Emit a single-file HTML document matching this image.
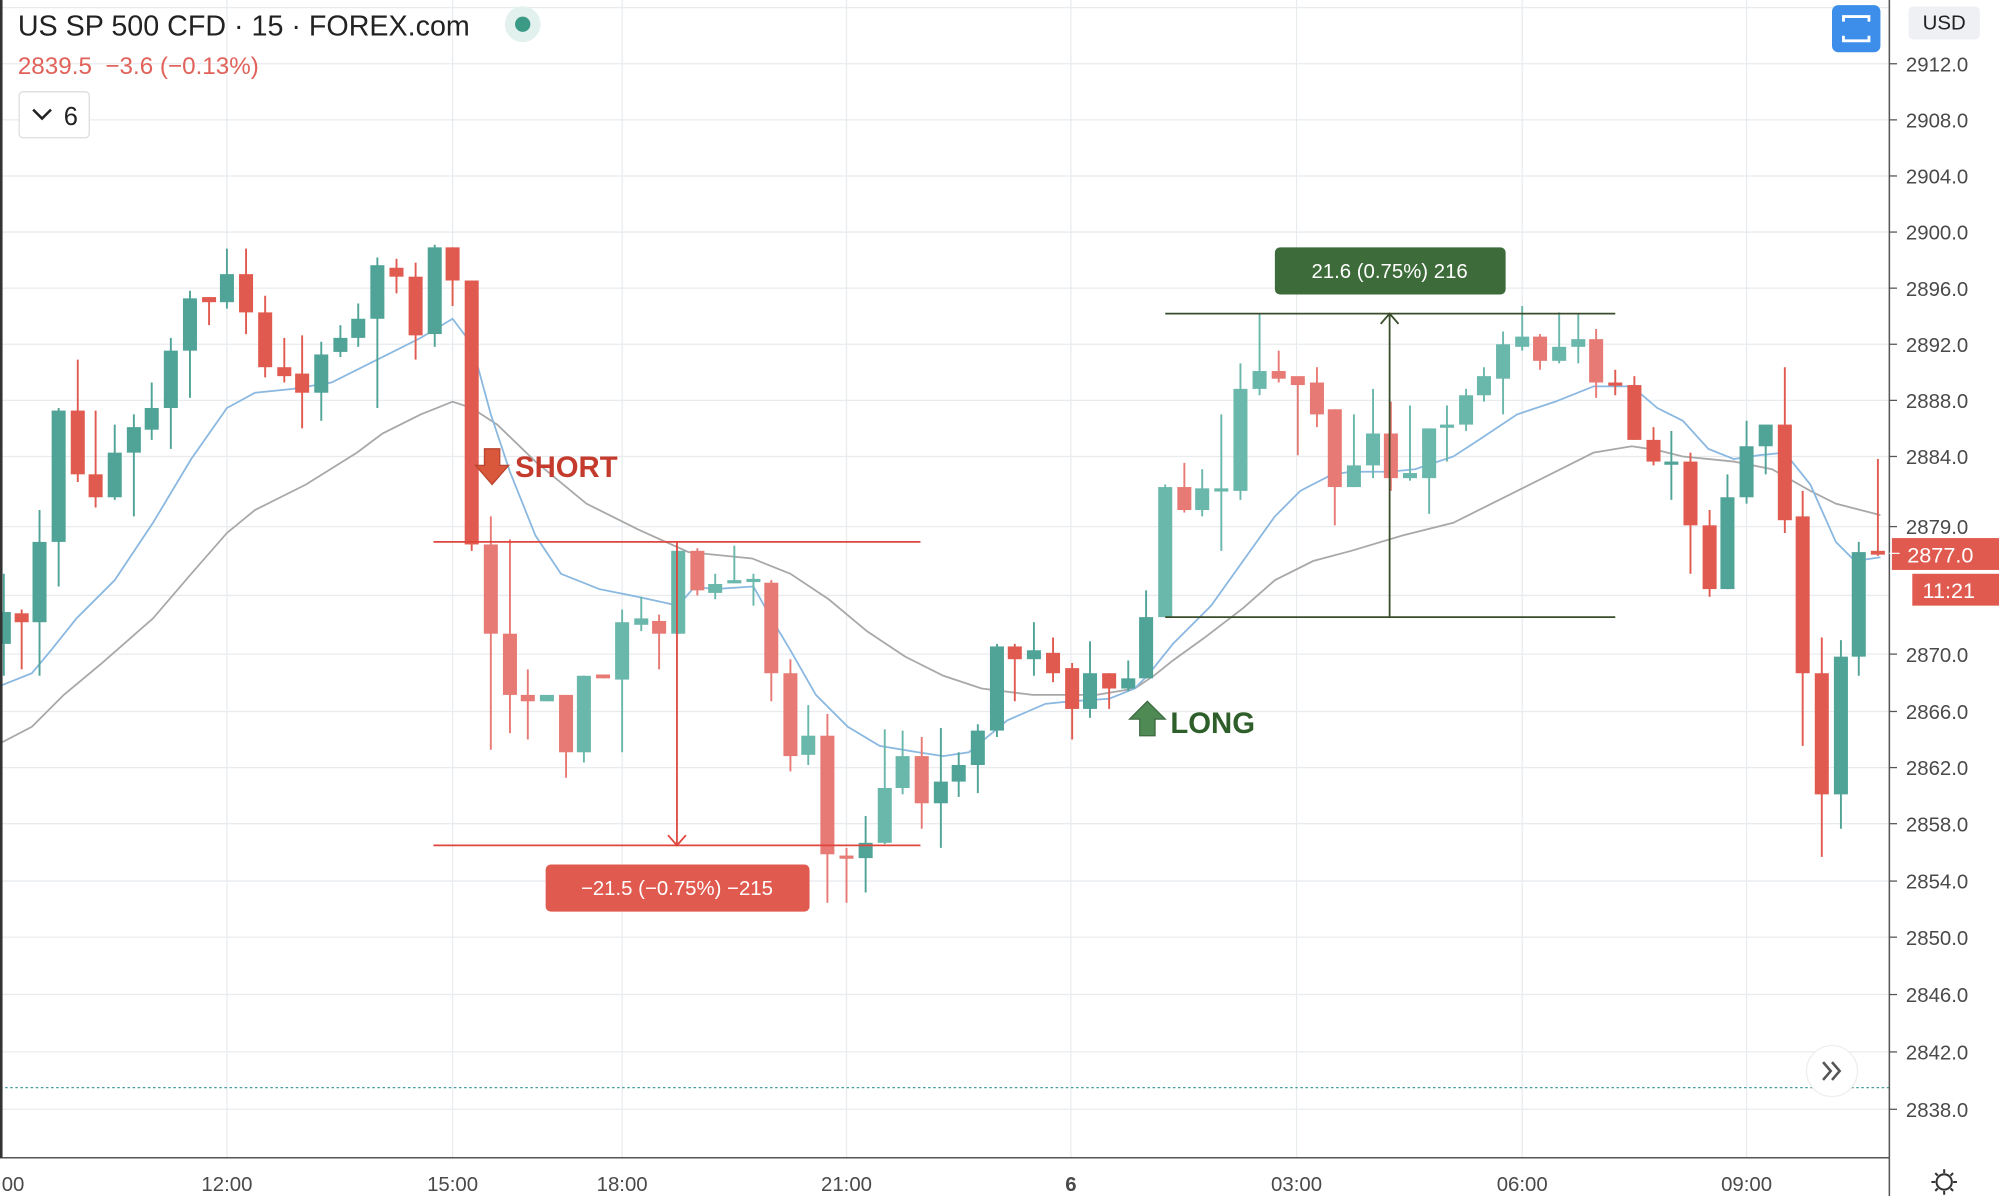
<!DOCTYPE html>
<html><head><meta charset="utf-8"><style>
html,body{margin:0;padding:0;background:#fff;}
svg{display:block;}
text{font-family:"Liberation Sans",sans-serif;}
</style></head><body>
<svg id="c" width="1999" height="1196" viewBox="0 0 1568 938" preserveAspectRatio="none" xmlns="http://www.w3.org/2000/svg">
<rect width="1568" height="938" fill="#fff"/>
<g id="grid" stroke="#e8ecef" stroke-width="1"></g>
<line x1="0" y1="853" x2="1482" y2="853" stroke="#4a9ea0" stroke-width="1" stroke-dasharray="2,2"/>
<polyline id="gray" fill="none" stroke="#a8a8a8" stroke-width="1.4"/>
<polyline id="blue" fill="none" stroke="#8ab8e0" stroke-width="1.4"/>
<g id="candles"></g>
<g stroke="#e0453c" stroke-width="1.4">
<line x1="340" y1="425" x2="722" y2="425"/>
<line x1="340" y1="663" x2="722" y2="663"/>
<line x1="531" y1="425" x2="531" y2="663"/>
<polyline points="524,655 531,663 538,655" fill="none"/>
</g>
<rect x="428" y="678" width="207" height="37" rx="4" fill="#e05a4f"/>
<text x="531" y="702" fill="#fff" font-size="16" text-anchor="middle">−21.5 (−0.75%) −215</text>
<g stroke="#3a4d2a" stroke-width="1.4">
<line x1="914" y1="246" x2="1267" y2="246"/>
<line x1="914" y1="484" x2="1267" y2="484"/>
<line x1="1090" y1="246" x2="1090" y2="484"/>
<polyline points="1083,254 1090,246 1097,254" fill="none"/>
</g>
<rect x="1000" y="194" width="181" height="37" rx="4" fill="#3e6b3a"/>
<text x="1090" y="218" fill="#fff" font-size="16" text-anchor="middle">21.6 (0.75%) 216</text>
<polygon points="380,352 392,352 392,365 399,365 386,380 373,365 380,365" fill="#d9573a" stroke="#b94530" stroke-width="1"/>
<text x="404" y="374" fill="#c43a2c" font-size="23" font-weight="bold">SHORT</text>
<polygon points="900,550 914,564 906,564 906,577 894,577 894,564 886,564" fill="#4f8a55" stroke="#3c6b40" stroke-width="1"/>
<text x="918" y="575" fill="#2e5e2a" font-size="23" font-weight="bold">LONG</text>
<line x1="1482" y1="0" x2="1482" y2="938" stroke="#555" stroke-width="1.2"/>
<line x1="0" y1="908" x2="1482" y2="908" stroke="#555" stroke-width="1.2"/>
<line x1="1" y1="0" x2="1" y2="908" stroke="#333" stroke-width="2"/>
<g id="yl" font-size="16" fill="#4a4a4a"></g>
<g id="xl" font-size="16" fill="#4a4a4a" text-anchor="middle"></g>
<rect x="1484" y="422" width="84" height="25" fill="#e05a4f"/>
<text x="1496" y="441" fill="#fff" font-size="17">2877.0</text>
<rect x="1500" y="450" width="68" height="25" fill="#e05a4f"/>
<text x="1508" y="469" fill="#fff" font-size="17">11:21</text>
<line x1="1482" y1="434" x2="1490" y2="434" stroke="#fff"/>
<text x="14" y="28" font-size="22.5" fill="#222" xml:space="preserve">US SP 500 CFD · 15 · FOREX.com</text>
<circle cx="410" cy="19" r="14" fill="#e2f0ee"/>
<circle cx="410" cy="19" r="6" fill="#3a9a86"/>
<text x="14" y="58" font-size="19" fill="#e0625a" xml:space="preserve">2839.5  −3.6 (−0.13%)</text>
<rect x="15" y="72" width="55" height="36" rx="3" fill="#fff" stroke="#ddd"/>
<polyline points="26,86 33,93 40,86" fill="none" stroke="#222" stroke-width="2"/>
<text x="50" y="98" font-size="20" fill="#222">6</text>
<rect x="1437" y="4" width="38" height="37" rx="5" fill="#3d8eea"/>
<path d="M1446,17 v-4 h20 v4 M1446,28 v4 h20 v-4" fill="none" stroke="#fff" stroke-width="2.2"/>
<rect x="1497" y="5" width="56" height="26" rx="4" fill="#eef0f3"/>
<text x="1525" y="23" font-size="16" fill="#222" text-anchor="middle">USD</text>
<circle cx="1437" cy="840" r="20" fill="#fff" stroke="#eee"/>
<path d="M1430,833 l6,7 l-6,7 M1437,833 l6,7 l-6,7" fill="none" stroke="#555" stroke-width="2"/>
<circle cx="1525" cy="927" r="6" fill="none" stroke="#333" stroke-width="1.6"/>
<path d="M1525,917 v3 M1525,934 v3 M1515,927 h3 M1532,927 h3 M1518,920 l2,2 M1530,932 l2,2 M1532,920 l-2,2 M1518,934 l2,-2" stroke="#333" stroke-width="1.6"/>
</svg>
<script>
var NS="http://www.w3.org/2000/svg";
function el(p,t,a,tx){var e=document.createElementNS(NS,t);for(var k in a)e.setAttribute(k,a[k]);if(tx!==undefined)e.textContent=tx;p.appendChild(e);return e;}
var grid=document.getElementById('grid');
var ys=[6,50,94,138,182,226,270,314,358,413,467,513,558,602,646,691,735,780,825,870];
ys.forEach(function(y){el(grid,'line',{x1:0,y1:y,x2:1482,y2:y});});
var xs=[178,355,488,664,840,1017,1194,1370];
xs.forEach(function(x){el(grid,'line',{x1:x,y1:0,x2:x,y2:908});});
var yl=document.getElementById('yl');
var labs=[[50,"2912.0"],[94,"2908.0"],[138,"2904.0"],[182,"2900.0"],[226,"2896.0"],[270,"2892.0"],[314,"2888.0"],[358,"2884.0"],[413,"2879.0"],[513,"2870.0"],[558,"2866.0"],[602,"2862.0"],[646,"2858.0"],[691,"2854.0"],[735,"2850.0"],[780,"2846.0"],[825,"2842.0"],[870,"2838.0"]];
labs.forEach(function(l){el(yl,'line',{x1:1482,y1:l[0],x2:1488,y2:l[0],stroke:'#555'});el(yl,'text',{x:1495,y:l[0]+6},l[1]);});
var xl=document.getElementById('xl');
[[8,":00"],[178,"12:00"],[355,"15:00"],[488,"18:00"],[664,"21:00"],[840,"6"],[1017,"03:00"],[1194,"06:00"],[1370,"09:00"]].forEach(function(l){var t=el(xl,'text',{x:l[0],y:934},l[1]);if(l[1]=="6")t.setAttribute('font-weight','bold');});
var C=[[3,480,505,450,530,'g'],[17,481,488,478,525,'r'],[31,425,488,400,530,'g'],[46,322,425,320,460,'g'],[61,322,372,282,378,'r'],[75,372,390,322,398,'r'],[90,355,390,333,392,'g'],[105,335,355,325,405,'g'],[119,320,337,300,345,'g'],[134,275,320,265,352,'g'],[149,234,275,228,312,'g'],[164,233,237,233,255,'r'],[178,215,237,195,242,'g'],[193,215,245,195,262,'r'],[208,245,288,232,296,'r'],[223,288,295,265,300,'r'],[237,293,308,263,336,'r'],[252,278,308,268,330,'g'],[267,265,276,255,280,'g'],[281,250,265,238,272,'g'],[296,208,250,202,320,'g'],[311,210,217,203,230,'r'],[326,217,263,206,282,'r'],[341,194,262,192,272,'g'],[355,194,220,194,240,'r'],[370,220,427,220,432,'r'],
[385,427,497,405,588,'R'],[400,497,545,423,575,'R'],[414,545,550,525,580,'R'],[429,545,550,545,550,'G'],[444,545,590,545,610,'R'],[458,530,590,530,598,'G'],[473,529,532,529,532,'R'],[488,488,533,478,590,'G'],[503,485,490,468,495,'G'],[517,487,497,482,525,'R'],[532,432,497,432,497,'G'],[547,432,463,430,467,'R'],[561,458,465,450,470,'G'],[576,455,457,428,457,'G'],[591,454,456,450,475,'G'],[605,457,528,455,550,'R'],[620,528,593,517,605,'R'],[634,577,592,553,600,'G'],[649,577,670,560,708,'R'],[664,671,673,665,708,'R'],[679,661,673,640,700,'g'],[694,618,661,572,662,'G'],[708,593,618,573,623,'G'],[723,593,630,578,650,'R'],[738,613,630,571,665,'g'],[752,600,613,590,625,'g'],[767,573,600,568,622,'g'],[782,507,573,505,578,'g'],[796,507,517,505,550,'r'],[811,510,517,488,530,'g'],[826,512,528,500,535,'r'],[841,524,556,520,580,'r'],[855,528,556,503,563,'g'],[870,528,540,528,556,'r'],[885,532,540,518,542,'g'],[899,484,532,463,532,'g'],[914,382,484,380,484,'G'],[929,382,400,363,402,'R'],[943,383,400,368,405,'G'],[958,383,385,325,432,'G'],[973,305,385,285,392,'G'],[988,291,305,246,310,'G'],[1003,291,297,275,300,'R'],[1018,295,302,296,357,'R'],[1033,300,325,288,335,'R'],[1047,321,382,321,412,'R'],[1062,365,382,325,382,'G'],[1077,340,365,305,375,'G'],[1091,340,375,315,385,'R'],[1106,371,375,318,377,'G'],[1121,336,375,336,403,'G'],[1135,333,335,318,362,'G'],[1150,310,333,305,338,'G'],[1164,295,310,288,315,'G'],[1179,270,297,260,325,'G'],[1194,264,272,240,275,'G'],[1208,264,283,262,290,'R'],[1223,272,283,245,285,'G'],[1238,266,272,246,285,'G'],[1252,266,300,258,312,'R'],[1267,300,302,290,310,'r'],[1282,302,345,295,345,'r'],[1297,345,362,335,365,'r'],[1311,362,363,338,392,'g'],[1326,362,412,355,450,'r'],[1341,412,462,400,468,'r'],[1355,390,462,372,462,'g'],[1370,350,390,330,395,'g'],[1385,333,350,333,372,'g'],[1400,333,408,288,418,'r'],[1414,405,528,385,585,'r'],[1429,528,623,500,672,'r'],[1444,515,623,502,650,'g'],[1458,433,515,425,530,'g'],[1473,432,435,360,436,'r']];
var cols={g:'#4fa397',r:'#e05a4f',G:'#6ab7ab',R:'#e77a74'};
var cg=document.getElementById('candles');
C.forEach(function(c){var col=cols[c[5]];el(cg,'line',{x1:c[0],y1:c[3],x2:c[0],y2:c[4],stroke:col,'stroke-width':1.5});var h=Math.max(c[2]-c[1],2.5);el(cg,'rect',{x:c[0]-5.5,y:c[1],width:11,height:h,fill:col});});
document.getElementById('blue').setAttribute('points',"0,538 25,528 40,510 60,485 90,455 120,410 150,360 178,320 200,308 230,305 260,300 300,280 330,265 355,250 370,270 385,325 400,370 420,420 440,450 470,462 500,468 532,475 545,460 560,462 591,460 605,485 620,510 640,545 665,570 690,585 720,590 740,593 760,590 790,565 820,552 840,550 870,548 890,540 900,530 920,505 950,475 975,440 1000,405 1020,385 1045,372 1060,370 1090,370 1110,368 1140,358 1160,345 1190,325 1220,315 1250,303 1280,303 1300,320 1320,330 1340,352 1360,360 1380,357 1400,355 1420,380 1440,425 1455,440 1475,437");
document.getElementById('gray').setAttribute('points',"0,583 25,570 50,545 80,520 120,485 150,450 178,418 200,400 240,380 280,355 300,340 330,325 355,315 370,320 390,333 420,362 460,395 500,415 540,433 590,438 620,450 650,470 680,495 710,515 740,530 770,540 810,545 840,545 860,545 890,540 905,530 920,518 945,500 975,477 1000,455 1030,440 1060,432 1100,420 1140,410 1180,390 1220,370 1250,355 1280,350 1300,353 1320,358 1360,362 1390,368 1420,385 1440,395 1475,404");
</script>
</body></html>
